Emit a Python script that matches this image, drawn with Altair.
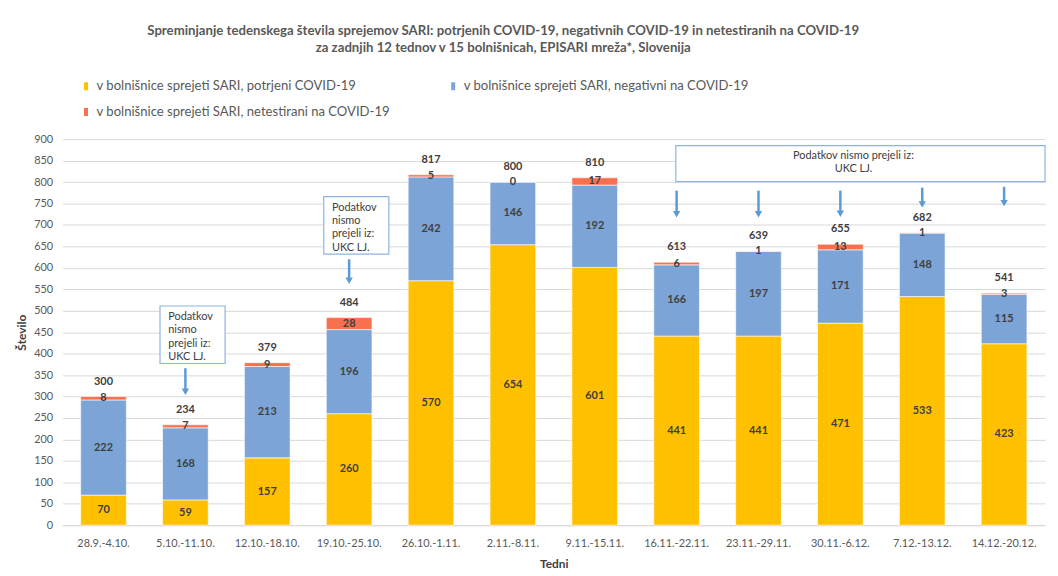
import altair as alt
import pandas as pd

# ---------------- data ----------------
weeks = ["28.9.-4.10.", "5.10.-11.10.", "12.10.-18.10.", "19.10.-25.10.",
         "26.10.-1.11.", "2.11.-8.11.", "9.11.-15.11.", "16.11.-22.11.",
         "23.11.-29.11.", "30.11.-6.12.", "7.12.-13.12.", "14.12.-20.12."]
confirmed = [70, 59, 157, 260, 570, 654, 601, 441, 441, 471, 533, 423]
negative = [222, 168, 213, 196, 242, 146, 192, 166, 197, 171, 148, 115]
untested = [8, 7, 9, 28, 5, 0, 17, 6, 1, 13, 1, 3]

series_names = ["v bolnišnice sprejeti SARI, potrjeni COVID-19",
                "v bolnišnice sprejeti SARI, negativni na COVID-19",
                "v bolnišnice sprejeti SARI, netestirani na COVID-19"]
series_colors = ["#FFC000", "#7CA4D6", "#F9704F"]

title_lines = ["Spreminjanje tedenskega števila sprejemov SARI: potrjenih COVID-19, negativnih COVID-19 in netestiranih na COVID-19",
               "za zadnjih 12 tednov v 15 bolnišnicah, EPISARI mreža*, Slovenija"]

# annotation notes (in data units)
note_weeks = ["5.10.-11.10.", "19.10.-25.10."]
note_bottom = [377, 632]
note_top = [511, 766]
note_text = "Podatkov\nnismo\nprejeli iz:\nUKC LJ."

big_note_start = "16.11.-22.11."
big_note_end = "14.12.-20.12."
big_note_center = "30.11.-6.12."
big_note_bottom = 801
big_note_top = 885
big_note_text = "Podatkov nismo prejeli iz:\nUKC LJ."

arrow_weeks = ["5.10.-11.10.", "19.10.-25.10.", "16.11.-22.11.", "23.11.-29.11.",
               "30.11.-6.12.", "7.12.-13.12.", "14.12.-20.12."]
arrow_top = [366, 620, 780, 780, 780, 787, 789]
arrow_tip = [303, 562, 717, 717, 718, 740, 743]

# ---------------- tables ----------------
rows = []
for i, w in enumerate(weeks):
    base = 0
    for name, vals in zip(series_names, [confirmed, negative, untested]):
        v = vals[i]
        rows.append(dict(week=w, series=name, value=v, y0=base, y1=base + v, mid=base + v / 2))
        base += v
seg = pd.DataFrame(rows)
totals = pd.DataFrame(dict(week=weeks, total=[c + n + u for c, n, u in zip(confirmed, negative, untested)]))
notes = pd.DataFrame(dict(week=note_weeks, bottom=note_bottom, top=note_top, txt=[note_text] * len(note_weeks)))
big = pd.DataFrame(dict(week=[big_note_start], we=[big_note_end], wc=[big_note_center],
                        bottom=[big_note_bottom], top=[big_note_top], txt=[big_note_text]))
arrows = pd.DataFrame(dict(week=arrow_weeks, top=arrow_top, tip=arrow_tip,
                           head=[t + 8 for t in arrow_tip]))

FONT = "Lato"
GRAY = "#595959"
DARK = "#404040"
BLUE = "#5B9BD5"

xscale = alt.Scale(domain=weeks, paddingInner=0, paddingOuter=0)
yscale = alt.Scale(domain=[0, 900], nice=False)

x_axis = alt.Axis(title="Tedni", labelAngle=0, ticks=False, domainColor="#D9D9D9",
                  grid=False, labelPadding=12, titlePadding=11,
                  labelFont=FONT, labelFontSize=11, labelColor=GRAY,
                  titleFont=FONT, titleFontSize=12, titleFontWeight="bold", titleColor=DARK)
y_axis = alt.Axis(title="Število", values=list(range(0, 901, 50)), ticks=False, domain=False,
                  gridColor="#D9D9D9", labelPadding=10, titlePadding=5,
                  labelFont=FONT, labelFontSize=11, labelColor=GRAY,
                  titleFont=FONT, titleFontSize=12, titleFontWeight="bold", titleColor=DARK)


def X(field, **kw):
    return alt.X(field, type="nominal", scale=xscale, sort=weeks, axis=x_axis, **kw)


def Y(field):
    return alt.Y(field, type="quantitative", scale=yscale, axis=y_axis)


bars = alt.Chart(seg).mark_bar(size=46, stroke="white", strokeWidth=0.6).encode(
    x=X("week"),
    y=Y("y0"),
    y2="y1:Q",
    color=alt.Color("series:N", scale=alt.Scale(domain=series_names, range=series_colors),
                    legend=alt.Legend(orient="none", legendX=17, legendY=-60, columns=2,
                                      direction="horizontal",
                                      title=None, padding=0,
                                      symbolType="M-0.5,-1H0.5V1H-0.5Z", symbolSize=64,
                                      symbolStrokeWidth=0, labelFontSize=13.2, labelColor=GRAY,
                                      labelFont=FONT, labelLimit=500, labelOffset=4,
                                      columnPadding=56, rowPadding=12)),
)

seg_labels = alt.Chart(seg).mark_text(font=FONT, fontSize=11, fontWeight="bold", color=DARK,
                                      baseline="middle").encode(
    x=X("week"), y=Y("mid"), text="value:Q",
)

tot_labels = alt.Chart(totals).mark_text(font=FONT, fontSize=11, fontWeight="bold", color=DARK,
                                         baseline="middle", dy=-15).encode(
    x=X("week"), y=Y("total"), text="total:Q",
)

note_boxes = alt.Chart(notes).mark_rect(fill="white", stroke="#8FB4E0", strokeWidth=1.2).encode(
    x=X("week", bandPosition=0.19),
    x2=alt.X2("week", bandPosition=0.985),
    y=Y("bottom"),
    y2="top:Q",
)
note_texts = alt.Chart(notes).mark_text(font=FONT, fontSize=11, color=DARK, align="left",
                                        baseline="top", dy=5, lineBreak="\n", lineHeight=13.5).encode(
    x=X("week", bandPosition=0.29),
    y=Y("top"),
    text="txt:N",
)

big_box = alt.Chart(big).mark_rect(fill="white", stroke="#8FB4E0", strokeWidth=1.2).encode(
    x=X("week", bandPosition=0.49),
    x2=alt.X2("we", bandPosition=1.0),
    y=Y("bottom"),
    y2="top:Q",
)
big_text = alt.Chart(big).mark_text(font=FONT, fontSize=11, color=DARK, align="center",
                                    baseline="top", dy=5, lineBreak="\n", lineHeight=13).encode(
    x=X("wc", bandPosition=0.66),
    y=Y("top"),
    text="txt:N",
)

arrow_shafts = alt.Chart(arrows).mark_rule(color=BLUE, strokeWidth=2.5).encode(
    x=X("week"), y=Y("top"), y2="head:Q",
)
arrow_heads = alt.Chart(arrows).mark_point(shape="triangle-down", filled=True, color=BLUE,
                                           size=55, opacity=1).encode(
    x=X("week"), y=Y("head"),
)

chart = alt.layer(bars, seg_labels, tot_labels, note_boxes, note_texts, big_box, big_text,
                  arrow_shafts, arrow_heads).properties(
    width=990, height=389,
    background="white",
    autosize=alt.AutoSizeParams(type="none"),
    padding={"left": 55, "top": 130, "right": 5, "bottom": 45},
    title=alt.TitleParams(text=title_lines, font=FONT, fontSize=13.3, fontWeight="bold",
                          color=GRAY, anchor="middle", dx=-51, offset=26, lineHeight=17),
).configure_view(strokeWidth=0, stroke="transparent")

chart.save("out.html", embed_options={"renderer": "svg", "actions": False})
